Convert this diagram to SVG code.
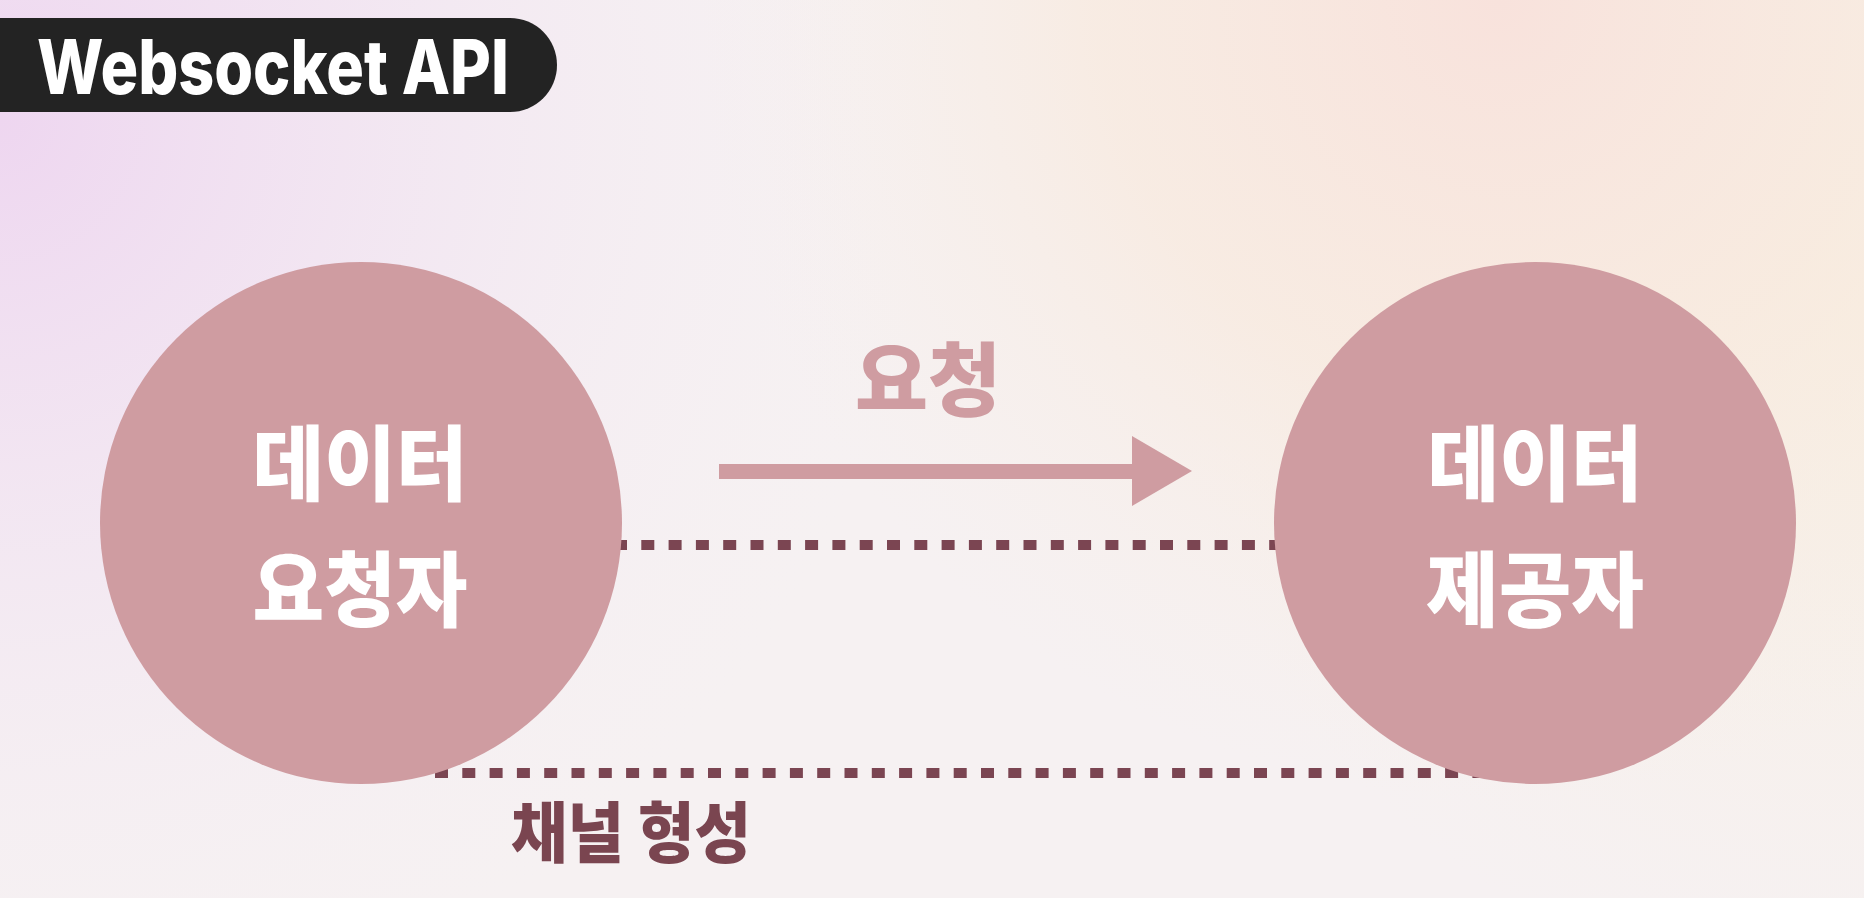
<svg xmlns="http://www.w3.org/2000/svg" width="1864" height="898" viewBox="0 0 1864 898">
  <defs>
    <radialGradient id="bgLav" cx="0" cy="120" r="950" gradientUnits="userSpaceOnUse">
      <stop offset="0" stop-color="#eed6f0"/>
      <stop offset="0.5" stop-color="#f2e6f2" stop-opacity="0.7"/>
      <stop offset="1" stop-color="#f6f1f3" stop-opacity="0"/>
    </radialGradient>
    <radialGradient id="bgPeach" cx="1500" cy="0" r="800" gradientUnits="userSpaceOnUse">
      <stop offset="0" stop-color="#f8e2dc"/>
      <stop offset="0.5" stop-color="#f8eadf" stop-opacity="0.8"/>
      <stop offset="1" stop-color="#f7efe8" stop-opacity="0"/>
    </radialGradient>
    <radialGradient id="bgPeach2" cx="1864" cy="300" r="700" gradientUnits="userSpaceOnUse">
      <stop offset="0" stop-color="#f8eedf"/>
      <stop offset="1" stop-color="#f7f0e8" stop-opacity="0"/>
    </radialGradient>
    <style>
      .node { fill: #cf9ca1; }
      .nodeText { fill: #ffffff; font-family: "Noto Sans CJK KR", "Noto Sans", sans-serif; font-weight: 900; font-size: 82px; text-anchor: middle; }
      .dots { stroke: #7b4552; stroke-width: 10; stroke-dasharray: 13 14.3; fill: none; }
    </style>
  </defs>

  <rect x="0" y="0" width="1864" height="898" fill="#f6f1f2"/>
  <rect x="0" y="0" width="1864" height="898" fill="url(#bgPeach2)"/>
  <rect x="0" y="0" width="1864" height="898" fill="url(#bgPeach)"/>
  <rect x="0" y="0" width="1864" height="898" fill="url(#bgLav)"/>

  <g id="title">
    <rect x="-60" y="18" width="617" height="94" rx="47" ry="47" fill="#232323"/>
    <text x="37" y="94" font-family="Inter, 'Liberation Sans', sans-serif" font-weight="800" font-size="76" fill="#ffffff" textLength="472" lengthAdjust="spacingAndGlyphs">Websocket API</text>
  </g>

  <g id="connectors">
    <line class="dots" x1="614" y1="545" x2="1285" y2="545"/>
    <line class="dots" x1="435" y1="773" x2="1480" y2="773"/>
    <rect x="719" y="464" width="416" height="15" fill="#cf9ca1"/>
    <polygon points="1132,436 1192,471 1132,506" fill="#cf9ca1"/>
    <text x="928" y="409" font-family="'Noto Sans CJK KR', sans-serif" font-weight="900" font-size="80" fill="#cf9ca1" text-anchor="middle" textLength="146" lengthAdjust="spacingAndGlyphs">요청</text>
    <text x="511" y="857" font-family="'Noto Sans CJK KR', sans-serif" font-weight="900" font-size="66" fill="#7a4550" textLength="240" lengthAdjust="spacingAndGlyphs">채널 형성</text>
  </g>

  <g id="requester">
    <circle class="node" cx="361" cy="523" r="261"/>
    <text class="nodeText" x="360" y="494" textLength="215" lengthAdjust="spacingAndGlyphs">데이터</text>
    <text class="nodeText" x="360" y="620" textLength="215" lengthAdjust="spacingAndGlyphs">요청자</text>
  </g>

  <g id="provider">
    <circle class="node" cx="1535" cy="523" r="261"/>
    <text class="nodeText" x="1535" y="494" textLength="215" lengthAdjust="spacingAndGlyphs">데이터</text>
    <text class="nodeText" x="1535" y="620" textLength="218" lengthAdjust="spacingAndGlyphs">제공자</text>
  </g>
</svg>
